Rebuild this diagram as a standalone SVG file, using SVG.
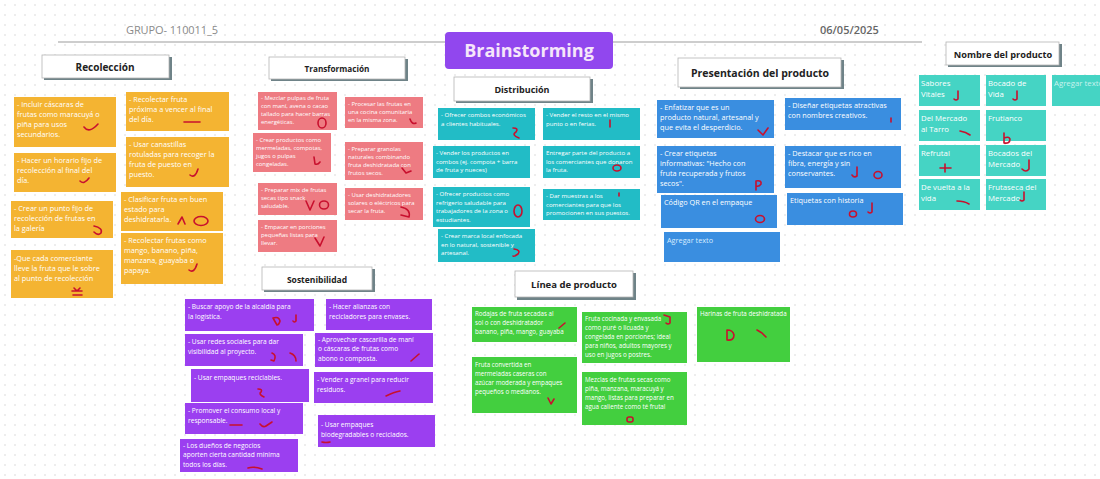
<svg xmlns="http://www.w3.org/2000/svg" width="1100" height="479" viewBox="0 0 1100 479">
<defs>
  <pattern id="dots" width="10" height="10" patternUnits="userSpaceOnUse">
    <circle cx="5" cy="5" r="0.8" fill="#d6d6d6"/>
  </pattern>
  <style>
    .card text{fill:#fff;font-family:"Open Sans","Liberation Sans",sans-serif}
    .rec rect{fill:#f4b432}
    .rec text{font-size:7.3px}
    .tra rect{fill:#ee7b82}
    .tra text{font-size:5.9px}
    .dis rect{fill:#22bcc6}
    .dis text{font-size:6.1px}
    .pre rect{fill:#3a8ee0}
    .pre text{font-size:7.3px}
    .nom rect{fill:#45d4c4}
    .nom text{font-size:7.8px}
    .sos rect{fill:#9b3ff0}
    .sos text{font-size:6.6px}
    .lin rect{fill:#43cf3f}
    .lin text{font-size:6.2px}
    .ph text{fill:#d7ecff}
    .nom .ph text{fill:#c9f3ee}
    .title rect.sh{fill:#6f8388}
    .title rect.bg{fill:#fff;stroke:#b5b5b5;stroke-width:0.8}
    .title text{fill:#222;font-family:"Open Sans","Liberation Sans",sans-serif;font-weight:700;text-anchor:middle}
    .mark{fill:none;stroke:#c8102e;stroke-width:1.6;stroke-linecap:round;stroke-linejoin:round}
    .head{font-family:"Open Sans","Liberation Sans",sans-serif;font-size:11px}
  </style>
</defs>

<!-- board background -->
<rect width="1100" height="479" fill="#fff"/>
<rect width="1100" height="479" fill="url(#dots)"/>

<!-- header -->
<g id="header">
  <line x1="58" y1="42" x2="922" y2="42" stroke="#bdbdbd" stroke-width="1.4"/>
  <text class="head" x="126" y="34" fill="#8a8a8a" textLength="92">GRUPO- 110011_5</text>
  <text class="head" x="820" y="34" fill="#666" font-weight="600">06/05/2025</text>
</g>
<g id="brainstorming">
  <rect x="445" y="32" width="168" height="37" rx="4" fill="#9147ee"/>
  <text x="529" y="57" text-anchor="middle" fill="#f6e6fa" font-family="'Open Sans','Liberation Sans',sans-serif" font-weight="700" font-size="18">Brainstorming</text>
</g>

<!-- section titles -->
<g id="t-recoleccion" class="title"><rect class="sh" x="44" y="57" width="128" height="23"/><rect class="bg" x="42" y="55" width="127" height="23"/><text x="105" y="71" font-size="10">Recolección</text></g>
<g id="t-transformacion" class="title"><rect class="sh" x="271" y="59" width="137" height="22"/><rect class="bg" x="269" y="57" width="136" height="22"/><text x="337" y="72" font-size="8.2">Transformación</text></g>
<g id="t-distribucion" class="title"><rect class="sh" x="456" y="79" width="137" height="24"/><rect class="bg" x="454" y="77" width="136" height="24"/><text x="522" y="93" font-size="9">Distribución</text></g>
<g id="t-presentacion" class="title"><rect class="sh" x="680" y="60" width="164" height="29"/><rect class="bg" x="678" y="58" width="163" height="29"/><text x="760" y="77" font-size="10.5">Presentación del producto</text></g>
<g id="t-nombre" class="title"><rect class="sh" x="948" y="44" width="114" height="23"/><rect class="bg" x="946" y="42" width="113" height="23"/><text x="1003" y="58" font-size="9.2">Nombre del producto</text></g>
<g id="t-sostenibilidad" class="title"><rect class="sh" x="264" y="269" width="111" height="23"/><rect class="bg" x="262" y="267" width="110" height="23"/><text x="317" y="283" font-size="8.5">Sostenibilidad</text></g>
<g id="t-linea" class="title"><rect class="sh" x="517" y="273" width="119" height="27"/><rect class="bg" x="515" y="271" width="118" height="26"/><text x="574" y="288" font-size="9.5">Línea de producto</text></g>

<!-- Recolección -->
<g class="card rec">
  <g id="r1"><rect x="14" y="97" width="102" height="50"/><text x="17" y="107"><tspan>- Incluir cáscaras de</tspan><tspan x="17" dy="10">frutas como maracuyá o</tspan><tspan x="17" dy="10">piña para usos</tspan><tspan x="17" dy="10">secundarios.</tspan></text></g>
  <g id="r2"><rect x="14" y="153" width="102" height="39"/><text x="17" y="163"><tspan>- Hacer un horario fijo de</tspan><tspan x="17" dy="10">recolección al final del</tspan><tspan x="17" dy="10">día.</tspan></text></g>
  <g id="r3"><rect x="11" y="201" width="102" height="37"/><text x="14" y="211"><tspan>- Crear un punto fijo de</tspan><tspan x="14" dy="10">recolección de frutas en</tspan><tspan x="14" dy="10">la galería</tspan></text></g>
  <g id="r4"><rect x="11" y="250" width="102" height="48"/><text x="14" y="261"><tspan>-Que cada comerciante</tspan><tspan x="14" dy="10">lleve la fruta que le sobre</tspan><tspan x="14" dy="10">al punto  de recolección</tspan></text></g>
  <g id="r5"><rect x="126" y="92" width="103" height="39"/><text x="129" y="102"><tspan>- Recolectar fruta</tspan><tspan x="129" dy="10">próxima a vencer al final</tspan><tspan x="129" dy="10">del día.</tspan></text></g>
  <g id="r6"><rect x="126" y="137" width="103" height="50"/><text x="129" y="147"><tspan>- Usar canastillas</tspan><tspan x="129" dy="10">rotuladas para recoger la</tspan><tspan x="129" dy="10">fruta de puesto en</tspan><tspan x="129" dy="10">puesto.</tspan></text></g>
  <g id="r7"><rect x="121" y="192" width="102" height="39"/><text x="124" y="202"><tspan>- Clasificar fruta en buen</tspan><tspan x="124" dy="10">estado para</tspan><tspan x="124" dy="10">deshidratarla.</tspan></text></g>
  <g id="r8"><rect x="121" y="233" width="102" height="51"/><text x="124" y="243"><tspan>- Recolectar frutas como</tspan><tspan x="124" dy="10">mango, banano, piña,</tspan><tspan x="124" dy="10">manzana, guayaba o</tspan><tspan x="124" dy="10">papaya.</tspan></text></g>
</g>

<!-- Transformación -->
<g class="card tra">
  <g id="t1"><rect x="258" y="92" width="79" height="38"/><text x="261" y="100"><tspan>- Mezclar pulpas de fruta</tspan><tspan x="261" dy="8">con maní, avena o cacao</tspan><tspan x="261" dy="8">tallado para hacer barras</tspan><tspan x="261" dy="8">energéticas.</tspan></text></g>
  <g id="t2"><rect x="345" y="97" width="78" height="31"/><text x="348" y="106"><tspan>- Procesar las frutas en</tspan><tspan x="348" dy="8">una cocina comunitaria</tspan><tspan x="348" dy="8">en la misma zona.</tspan></text></g>
  <g id="t3"><rect x="253" y="133" width="78" height="39"/><text x="256" y="142"><tspan>- Crear productos como</tspan><tspan x="256" dy="8">mermeladas, compotas,</tspan><tspan x="256" dy="8">jugos o pulpas</tspan><tspan x="256" dy="8">congeladas.</tspan></text></g>
  <g id="t4"><rect x="345" y="142" width="78" height="38"/><text x="348" y="151"><tspan>- Preparar granolas</tspan><tspan x="348" dy="8">naturales combinando</tspan><tspan x="348" dy="8">fruta deshidratada con</tspan><tspan x="348" dy="8">frutos secos.</tspan></text></g>
  <g id="t5"><rect x="258" y="183" width="79" height="32"/><text x="261" y="192"><tspan>- Preparar mix de frutas</tspan><tspan x="261" dy="8">secas tipo snack</tspan><tspan x="261" dy="8">saludable.</tspan></text></g>
  <g id="t6"><rect x="345" y="188" width="78" height="32"/><text x="348" y="197"><tspan>- Usar deshidratadores</tspan><tspan x="348" dy="8">solares o eléctricos para</tspan><tspan x="348" dy="8">secar la fruta.</tspan></text></g>
  <g id="t7"><rect x="258" y="220" width="79" height="32"/><text x="261" y="229"><tspan>- Empacar en porciones</tspan><tspan x="261" dy="8">pequeñas listas para</tspan><tspan x="261" dy="8">llevar.</tspan></text></g>
</g>

<!-- Distribución -->
<g class="card dis">
  <g id="d1"><rect x="438" y="108" width="97" height="32"/><text x="441" y="117"><tspan>- Ofrecer combos económicos</tspan><tspan x="441" dy="8.5">a clientes habituales.</tspan></text></g>
  <g id="d2"><rect x="543" y="108" width="97" height="32"/><text x="546" y="117"><tspan>- Vender el resto en el mismo</tspan><tspan x="546" dy="8.5">punto o en ferias.</tspan></text></g>
  <g id="d3"><rect x="433" y="146" width="97" height="32"/><text x="436" y="155"><tspan>- Vender los productos en</tspan><tspan x="436" dy="8.5">combos (ej. compota + barra</tspan><tspan x="436" dy="8.5">de fruta y nueces)</tspan></text></g>
  <g id="d4"><rect x="543" y="146" width="97" height="32"/><text x="546" y="155"><tspan>Entregar parte del producto a</tspan><tspan x="546" dy="8.5">los comerciantes que donaron</tspan><tspan x="546" dy="8.5">la fruta.</tspan></text></g>
  <g id="d5"><rect x="433" y="187" width="97" height="40"/><text x="436" y="196"><tspan>- Ofrecer productos como</tspan><tspan x="436" dy="8.5">refrigerio saludable para</tspan><tspan x="436" dy="8.5">trabajadores de la zona o</tspan><tspan x="436" dy="8.5">estudiantes.</tspan></text></g>
  <g id="d6"><rect x="543" y="189" width="97" height="31"/><text x="546" y="198"><tspan>- Dar muestras a los</tspan><tspan x="546" dy="8.5">comerciantes para que los</tspan><tspan x="546" dy="8.5">promocionen en sus puestos.</tspan></text></g>
  <g id="d7"><rect x="438" y="229" width="97" height="33"/><text x="441" y="238"><tspan>- Crear marca local enfocada</tspan><tspan x="441" dy="8.5">en lo natural, sostenible y</tspan><tspan x="441" dy="8.5">artesanal.</tspan></text></g>
</g>

<!-- Presentación del producto -->
<g class="card pre">
  <g id="p1"><rect x="657" y="100" width="117" height="38"/><text x="660" y="110"><tspan>- Enfatizar que es un</tspan><tspan x="660" dy="10">producto natural, artesanal y</tspan><tspan x="660" dy="10">que evita el desperdicio.</tspan></text></g>
  <g id="p2"><rect x="785" y="98" width="116" height="32"/><text x="788" y="108"><tspan>- Diseñar etiquetas atractivas</tspan><tspan x="788" dy="10">con nombres creativos.</tspan></text></g>
  <g id="p3"><rect x="657" y="146" width="117" height="47"/><text x="660" y="156"><tspan>- Crear etiquetas</tspan><tspan x="660" dy="10">informativas: "Hecho con</tspan><tspan x="660" dy="10">fruta recuperada y frutos</tspan><tspan x="660" dy="10">secos".</tspan></text></g>
  <g id="p4"><rect x="785" y="146" width="116" height="42"/><text x="788" y="156"><tspan>- Destacar que es rico en</tspan><tspan x="788" dy="10">fibra, energía y sin</tspan><tspan x="788" dy="10">conservantes.</tspan></text></g>
  <g id="p5"><rect x="661" y="195" width="116" height="33"/><text x="664" y="205">Código QR en el empaque</text></g>
  <g id="p6"><rect x="787" y="193" width="116" height="32"/><text x="790" y="203">Etiquetas con historia</text></g>
  <g id="p7" class="ph"><rect x="664" y="232" width="116" height="30"/><text x="667" y="243">Agregar texto</text></g>
</g>

<!-- Nombre del producto -->
<g class="card nom">
  <g id="n1"><rect x="919" y="75" width="61" height="31"/><text x="921" y="86"><tspan>Sabores</tspan><tspan x="921" dy="11">Vitales</tspan></text></g>
  <g id="n2"><rect x="986" y="75" width="60" height="31"/><text x="988" y="86"><tspan>Bocado de</tspan><tspan x="988" dy="11">Vida</tspan></text></g>
  <g id="n3" class="ph"><rect x="1052" y="75" width="48" height="31"/><text x="1054" y="86">Agregar texto</text></g>
  <g id="n4"><rect x="919" y="110" width="61" height="31"/><text x="921" y="121"><tspan>Del Mercado</tspan><tspan x="921" dy="11">al Tarro</tspan></text></g>
  <g id="n5"><rect x="986" y="110" width="60" height="31"/><text x="988" y="121">Frutianco</text></g>
  <g id="n6"><rect x="919" y="145" width="61" height="31"/><text x="921" y="156">Refrutal</text></g>
  <g id="n7"><rect x="986" y="145" width="60" height="31"/><text x="988" y="156"><tspan>Bocados del</tspan><tspan x="988" dy="11">Mercado</tspan></text></g>
  <g id="n8"><rect x="919" y="179" width="61" height="31"/><text x="921" y="190"><tspan>De vuelta a la</tspan><tspan x="921" dy="11">vida</tspan></text></g>
  <g id="n9"><rect x="986" y="179" width="60" height="31"/><text x="988" y="190"><tspan>Frutaseca del</tspan><tspan x="988" dy="11">Mercado</tspan></text></g>
</g>

<!-- Sostenibilidad -->
<g class="card sos">
  <g id="s1"><rect x="185" y="299" width="129" height="32"/><text x="188" y="309"><tspan>- Buscar apoyo de la alcaldía para</tspan><tspan x="188" dy="9.5">la logística.</tspan></text></g>
  <g id="s2"><rect x="326" y="299" width="106" height="31"/><text x="329" y="309"><tspan>- Hacer alianzas con</tspan><tspan x="329" dy="9.5">recicladores para envases.</tspan></text></g>
  <g id="s3"><rect x="185" y="334" width="118" height="32"/><text x="188" y="344"><tspan>- Usar redes sociales para dar</tspan><tspan x="188" dy="9.5">visibilidad al proyecto.</tspan></text></g>
  <g id="s4"><rect x="315" y="333" width="118" height="34"/><text x="318" y="342"><tspan>- Aprovechar cascarilla de maní</tspan><tspan x="318" dy="9.3">o cáscaras de frutas como</tspan><tspan x="318" dy="9.3">abono o composta.</tspan></text></g>
  <g id="s5"><rect x="191" y="369" width="118" height="33"/><text x="194" y="380">- Usar empaques reciclables.</text></g>
  <g id="s6"><rect x="314" y="372" width="119" height="31"/><text x="317" y="382"><tspan>- Vender a granel para reducir</tspan><tspan x="317" dy="9.5">residuos.</tspan></text></g>
  <g id="s7"><rect x="185" y="403" width="118" height="31"/><text x="188" y="413"><tspan>- Promover el consumo local y</tspan><tspan x="188" dy="9.5">responsable.</tspan></text></g>
  <g id="s8"><rect x="318" y="415" width="117" height="32"/><text x="321" y="427"><tspan>- Usar empaques</tspan><tspan x="321" dy="9.5">biodegradables o reciclados.</tspan></text></g>
  <g id="s9"><rect x="180" y="439" width="118" height="33"/><text x="183" y="448"><tspan>- Los dueños de negocios</tspan><tspan x="183" dy="9.3">aporten cierta cantidad mínima</tspan><tspan x="183" dy="9.3">todos los días.</tspan></text></g>
</g>

<!-- Línea de producto -->
<g class="card lin">
  <g id="l1"><rect x="472" y="307" width="105" height="35"/><text x="475" y="316"><tspan>Rodajas de fruta secadas al</tspan><tspan x="475" dy="9">sol o con deshidratador</tspan><tspan x="475" dy="9">banano, piña, mango, guayaba</tspan></text></g>
  <g id="l2"><rect x="582" y="312" width="105" height="51"/><text x="585" y="321"><tspan>Fruta cocinada y envasada</tspan><tspan x="585" dy="9">como puré o licuada y</tspan><tspan x="585" dy="9">congelada en porciones; ideal</tspan><tspan x="585" dy="9">para niños, adultos mayores y</tspan><tspan x="585" dy="9">uso en jugos o postres.</tspan></text></g>
  <g id="l3"><rect x="697" y="307" width="93" height="55"/><text x="700" y="316">Harinas de fruta deshidratada</text></g>
  <g id="l4"><rect x="472" y="357" width="105" height="56"/><text x="475" y="367"><tspan>Fruta convertida en</tspan><tspan x="475" dy="9">mermeladas caseras con</tspan><tspan x="475" dy="9">azúcar moderada y empaques</tspan><tspan x="475" dy="9">pequeños o medianos.</tspan></text></g>
  <g id="l5"><rect x="582" y="372" width="105" height="53"/><text x="585" y="382"><tspan>Mezclas de frutas secas como</tspan><tspan x="585" dy="9">piña, manzana, maracuyá y</tspan><tspan x="585" dy="9">mango, listas para preparar en</tspan><tspan x="585" dy="9">agua caliente como té frutal</tspan></text></g>
</g>

<!-- hand-drawn red ticks and marks -->
<g id="marks" class="mark">
  <path d="M84,127 q5,7 14,-3"/>
  <path d="M184,122 h16"/>
  <path d="M190,175 q5,4 8,-6"/>
  <path d="M80,181 q4,4 9,-3"/>
  <path d="M178,224 l4,-7 l3,7"/><ellipse cx="201" cy="221" rx="7" ry="4.5"/>
  <path d="M94,226 q9,2 7,7 q-3,3 -7,-1"/>
  <path d="M189,270 q5,4 8,-6"/>
  <path d="M72,291 h10 M73,295 h9 M74,288 l3,3 l3,-3"/>
  <ellipse cx="322" cy="123" rx="4" ry="5"/>
  <path d="M410,119 q2,6 6,4"/>
  <path d="M314,157 l1,7 q3,1 5,-2"/>
  <path d="M402,168 l4,5 l5,-2"/>
  <path d="M306,201 l4,9 l4,-9"/><ellipse cx="324" cy="205" rx="4.5" ry="4"/>
  <path d="M401,207 q10,2 8,10 l-8,-2"/>
  <path d="M315,238 l5,8 l4,-9"/>
  <path d="M513,128 q6,0 3,4 q-5,3 3,6"/>
  <path d="M610,120 v7"/>
  <ellipse cx="617" cy="168" rx="4" ry="3"/>
  <ellipse cx="518" cy="211" rx="4" ry="6"/>
  <path d="M619,193 v3"/>
  <path d="M514,249 q7,1 4,5 q-4,3 -5,2"/>
  <path d="M758,130 l5,5 l5,-7"/>
  <path d="M891,118 v4"/>
  <path d="M756,190 v-9 q6,-1 5,3 q-2,3 -5,2"/>
  <path d="M857,167 v9 q-3,2 -5,-1"/><ellipse cx="878" cy="175" rx="4" ry="3.5"/>
  <ellipse cx="760" cy="219" rx="4.5" ry="3.5"/>
  <ellipse cx="853" cy="214" rx="3.5" ry="3"/><path d="M872,203 v9 q-2,2 -4,0"/>
  <path d="M958,91 v8 q-2,2 -4,0"/>
  <path d="M1017,91 v8 q-2,2 -4,0"/>
  <path d="M960,131 q6,1 10,4"/>
  <path d="M1004,133 v10 q6,1 6,-4 q-1,-3 -6,-1"/>
  <path d="M940,168 h11 M945,164 v8"/>
  <path d="M1029,160 v9 q-3,4 -7,0"/>
  <path d="M957,201 q7,0 12,3"/>
  <path d="M1024,192 v8 q-2,2 -4,0"/>
  <path d="M273,318 q6,-2 7,3 q-1,4 -3,4 z"/><path d="M296,315 v6 q-2,2 -3,0"/>
  <path d="M272,353 q5,2 2,8 l-3,-1"/><path d="M290,353 q6,2 6,8"/>
  <path d="M411,361 l8,-7"/>
  <path d="M258,389 q5,0 3,3 q-3,2 3,5"/>
  <path d="M386,396 q8,-4 14,-5"/>
  <path d="M230,425 h12"/><path d="M260,424 q3,4 6,2 l6,-4"/>
  <path d="M322,442 q4,1 8,0"/>
  <path d="M248,468 q6,-2 14,1"/>
  <path d="M559,328 l6,-5"/>
  <path d="M664,315 l6,2 l0,6 q-2,2 -4,0"/>
  <path d="M727,330 v10 q7,1 7,-5 q-1,-5 -7,-5"/>
  <path d="M757,330 l5,3 l4,4"/>
  <path d="M548,398 l3,6 l3,-5"/>
  <rect x="627" y="417" width="6" height="5" rx="2"/>
</g>
</svg>
